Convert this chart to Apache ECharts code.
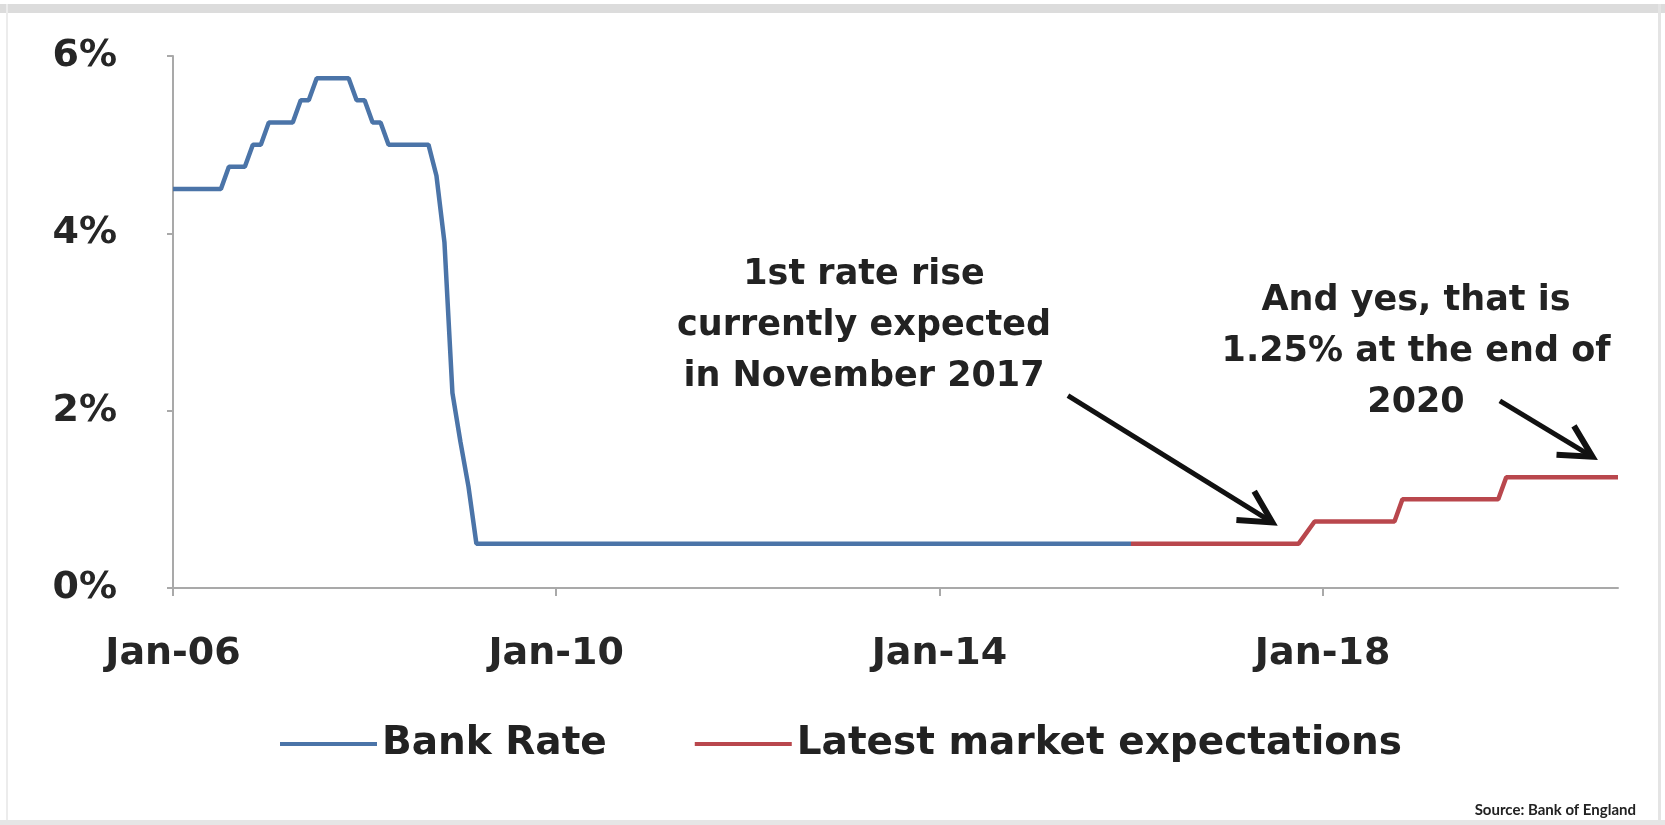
<!DOCTYPE html>
<html><head><meta charset="utf-8">
<script src="https://cdn.jsdelivr.net/npm/echarts@6/dist/echarts.min.js"></script>
<style>html,body{margin:0;padding:0;background:#fff}#c{width:1665px;height:825px}</style>
</head><body><div id="c"></div>
<script>
// x values are months counted from Jan 2006
const bankMonths = [0, 6, 7, 9, 10, 11, 12, 15, 16, 17, 18, 22, 23, 24, 25, 26, 27, 32, 33, 34, 35, 36, 37, 38, 120];
const bankRates  = [4.5, 4.5, 4.75, 4.75, 5.0, 5.0, 5.25, 5.25, 5.5, 5.5, 5.75, 5.75, 5.5, 5.5, 5.25, 5.25, 5.0, 5.0, 4.65, 3.9, 2.2, 1.65, 1.15, 0.5, 0.5];
const marketMonths = [120, 141, 143, 153, 154, 166, 167, 181];
const marketRates  = [0.5, 0.5, 0.75, 0.75, 1.0, 1.0, 1.25, 1.25];
const xTickMonths = [0, 48, 96, 144];
const xTickLabels = ['Jan-06', 'Jan-10', 'Jan-14', 'Jan-18'];
const seriesNames = ['Bank Rate', 'Latest market expectations'];
const note1 = ['1st rate rise', 'currently expected', 'in November 2017'];
const note2 = ['And yes, that is', '1.25% at the end of', '2020'];
const sourceText = 'Source: Bank of England';
// arrow annotations in data units [month, %]
const arrowFrom = [[112.1, 2.17], [166.2, 2.11]];
const arrowTo   = [[137.7, 0.74], [177.8, 1.48]];

const FONT = '"DejaVu Sans", sans-serif';
const AXIS_COLOR = '#a9a9a9';
const chart = echarts.init(document.getElementById('c'));

const option = {
  animation: false,
  backgroundColor: '#ffffff',
  grid: { left: 173, right: 47, top: 56, bottom: 237, outerBoundsMode: 'none' },
  legend: {
    left: 275, top: 719,
    itemWidth: 97, itemHeight: 4, itemGap: 88,
    icon: 'rect',
    textStyle: { fontFamily: FONT, fontWeight: 'bold', fontSize: 39, lineHeight: 40, color: '#222' },
    data: seriesNames
  },
  xAxis: {
    type: 'value', min: 0, max: 181,
    splitLine: { show: false },
    axisLine: { show: true, lineStyle: { color: AXIS_COLOR, width: 2 } },
    axisTick: { show: true, customValues: xTickMonths, length: 8, lineStyle: { color: AXIS_COLOR, width: 2 } },
    axisLabel: {
      customValues: xTickMonths,
      margin: 46,
      formatter: v => xTickLabels[xTickMonths.indexOf(v)] || '',
      fontFamily: FONT, fontWeight: 'bold', fontSize: 38, lineHeight: 40, color: '#262626'
    }
  },
  yAxis: {
    type: 'value', min: 0, max: 6, interval: 2,
    splitLine: { show: false },
    axisLine: { show: true, lineStyle: { color: AXIS_COLOR, width: 2 } },
    axisTick: { show: true, length: 6, lineStyle: { color: AXIS_COLOR, width: 2 } },
    axisLabel: {
      margin: 56, formatter: '{value}%',
      fontFamily: FONT, fontWeight: 'bold', fontSize: 38, color: '#262626'
    }
  },
  series: [
    {
      name: seriesNames[0], type: 'line', symbol: 'none',
      data: bankMonths.map((m, i) => [m, bankRates[i]]),
      lineStyle: { color: '#4b74a8', width: 4.5 }, itemStyle: { color: '#4b74a8' }
    },
    {
      name: seriesNames[1], type: 'line', symbol: 'none',
      data: marketMonths.map((m, i) => [m, marketRates[i]]),
      lineStyle: { color: '#b9474d', width: 4.5 }, itemStyle: { color: '#b9474d' }
    }
  ]
};
chart.setOption(option);

const gfx = [
  { type: 'rect', shape: { x: 0, y: 4, width: 1665, height: 9 }, style: { fill: '#dcdcdc' }, silent: true },
  { type: 'rect', shape: { x: 6, y: 4, width: 2, height: 821 }, style: { fill: '#ececec' }, silent: true },
  { type: 'rect', shape: { x: 1658, y: 4, width: 3, height: 821 }, style: { fill: '#e4e4e4' }, silent: true },
  { type: 'rect', shape: { x: 0, y: 820, width: 1665, height: 5 }, style: { fill: '#e6e6e6' }, silent: true },
  { type: 'text', style: { text: note1.join('\n'), x: 864, y: 326, align: 'center', verticalAlign: 'middle',
      font: 'bold 35px ' + FONT, lineHeight: 51, fill: '#222' } },
  { type: 'text', style: { text: note2.join('\n'), x: 1416, y: 352, align: 'center', verticalAlign: 'middle',
      font: 'bold 35px ' + FONT, lineHeight: 51, fill: '#222' } },
  { type: 'text', style: { text: sourceText, x: 1636, y: 810, align: 'right', verticalAlign: 'middle',
      font: 'bold 15px Lato, sans-serif', fill: '#222' } }
];

for (let i = 0; i < arrowFrom.length; i++) {
  const p0 = chart.convertToPixel({ xAxisIndex: 0, yAxisIndex: 0 }, arrowFrom[i]);
  const p1 = chart.convertToPixel({ xAxisIndex: 0, yAxisIndex: 0 }, arrowTo[i]);
  const ang = Math.atan2(p0[1] - p1[1], p0[0] - p1[0]);
  const L = 36, spread = 28 * Math.PI / 180;
  const a1 = [p1[0] + L * Math.cos(ang - spread), p1[1] + L * Math.sin(ang - spread)];
  const a2 = [p1[0] + L * Math.cos(ang + spread), p1[1] + L * Math.sin(ang + spread)];
  gfx.push({ type: 'line', shape: { x1: p0[0], y1: p0[1], x2: p1[0], y2: p1[1] },
    style: { stroke: '#111', lineWidth: 5 } });
  gfx.push({ type: 'polyline', shape: { points: [a1, p1, a2] },
    style: { stroke: '#111', lineWidth: 6, fill: null, lineJoin: 'miter' } });
}
chart.setOption({ graphic: gfx });
</script>
</body></html>
